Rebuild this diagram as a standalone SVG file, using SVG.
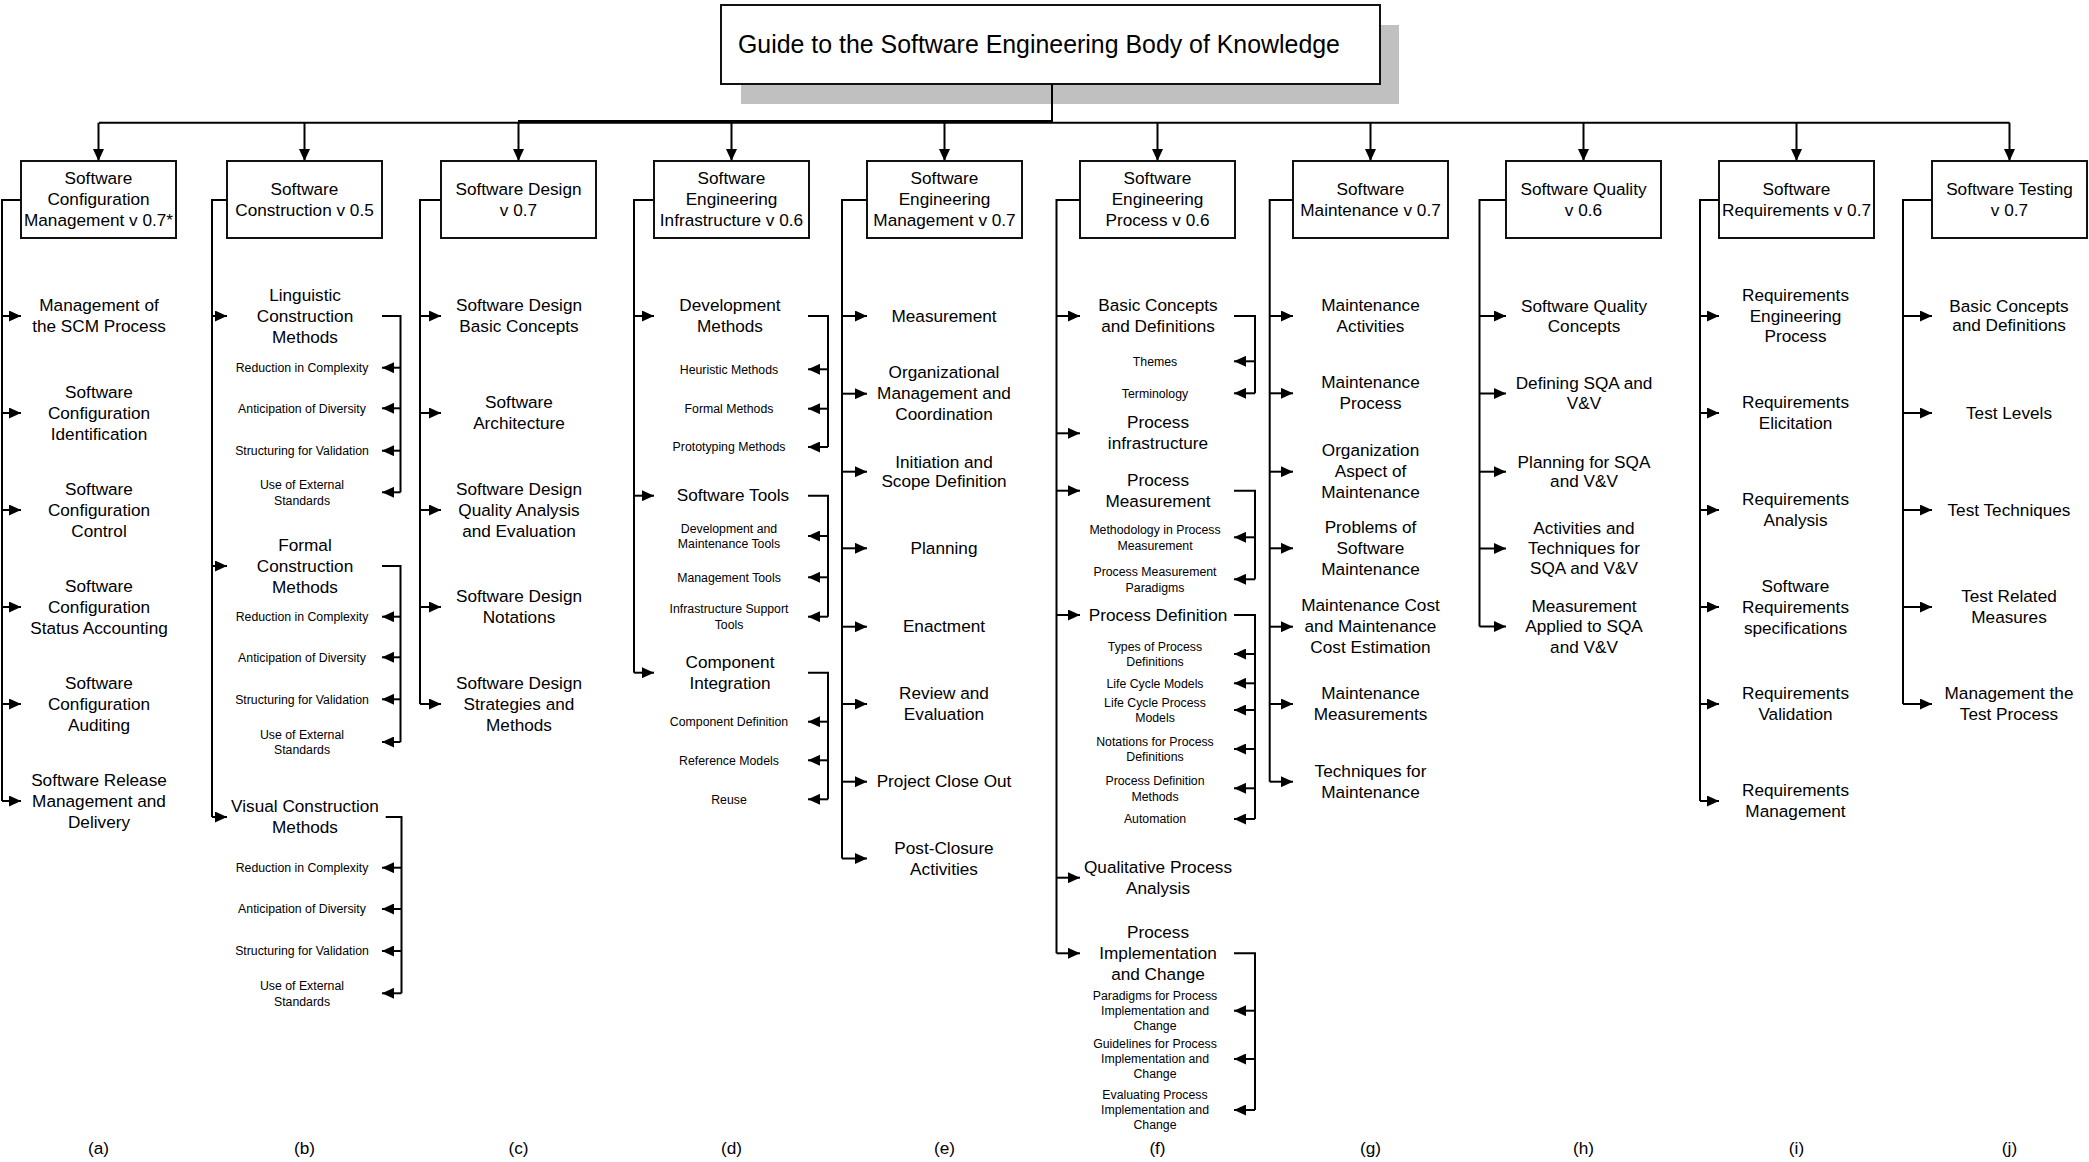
<svg xmlns="http://www.w3.org/2000/svg" width="2089" height="1162" viewBox="0 0 2089 1162">
<style>
text{font-family:"Liberation Sans",Arial,sans-serif;fill:#000;text-anchor:middle;font-size:17.2px}
.s{font-size:12.3px}
.ttl{font-size:24.9px;text-anchor:start}
.box{fill:#fff;stroke:#111;stroke-width:2}
.ln{fill:none;stroke:#000;stroke-width:2}
.ar{fill:none;stroke:#000;stroke-width:2;marker-end:url(#ah)}
</style>
<defs>
<marker id="ah" viewBox="0 0 12 11" refX="12" refY="5.5" markerWidth="12" markerHeight="11" markerUnits="userSpaceOnUse" orient="auto"><path d="M0,0 L12,5.5 L0,11 z" fill="#000"/></marker>
</defs>
<rect width="2089" height="1162" fill="#fff"/>

<g id="root">
<rect x="741" y="25" width="658" height="79" fill="#c0c0c0"/>
<rect class="box" x="721" y="5" width="659" height="79"/>
<text class="ttl" x="738" y="52.7">Guide to the Software Engineering Body of Knowledge</text>
</g>

<g id="connectors">
<path class="ln" d="M1052 84 V122.7 M99 122.7 H2009.5"/>
<path class="ln" d="M518 121 H1052"/>
<path class="ar" d="M98.5 122.7 V161"/>
<path class="ar" d="M304.5 122.7 V161"/>
<path class="ar" d="M518.5 122.7 V161"/>
<path class="ar" d="M731.5 122.7 V161"/>
<path class="ar" d="M944.5 122.7 V161"/>
<path class="ar" d="M1157.5 122.7 V161"/>
<path class="ar" d="M1370.5 122.7 V161"/>
<path class="ar" d="M1583.5 122.7 V161"/>
<path class="ar" d="M1796.5 122.7 V161"/>
<path class="ar" d="M2009.5 122.7 V161"/>
<!-- a -->
<path class="ln" d="M21 200 H2 V801"/>
<path class="ar" d="M2 316 H21"/>
<path class="ar" d="M2 413 H21"/>
<path class="ar" d="M2 510 H21"/>
<path class="ar" d="M2 607 H21"/>
<path class="ar" d="M2 704 H21"/>
<path class="ar" d="M2 801 H21"/>
<!-- b -->
<path class="ln" d="M227 200 H212 V817"/>
<path class="ar" d="M212 316 H227"/>
<path class="ar" d="M212 566 H227"/>
<path class="ar" d="M212 817 H227"/>
<path class="ln" d="M382 316 H400.5 V492.3 M382 566 H400.5 V742 M385.7 817 H401.5 V993.3"/>
<path class="ar" d="M400.5 367.7 H382"/>
<path class="ar" d="M400.5 408.3 H382"/>
<path class="ar" d="M400.5 450.7 H382"/>
<path class="ar" d="M400.5 492.3 H382"/>
<path class="ar" d="M400.5 616.7 H382"/>
<path class="ar" d="M400.5 657.3 H382"/>
<path class="ar" d="M400.5 699.3 H382"/>
<path class="ar" d="M400.5 742 H382"/>
<path class="ar" d="M401.5 867.7 H382"/>
<path class="ar" d="M401.5 909 H382"/>
<path class="ar" d="M401.5 951 H382"/>
<path class="ar" d="M401.5 993.3 H382"/>
<!-- c -->
<path class="ln" d="M441 200 H420 V704"/>
<path class="ar" d="M420 316 H441"/>
<path class="ar" d="M420 413 H441"/>
<path class="ar" d="M420 510 H441"/>
<path class="ar" d="M420 607 H441"/>
<path class="ar" d="M420 704 H441"/>
<!-- d -->
<path class="ln" d="M654 200 H634 V672.7"/>
<path class="ar" d="M634 316 H654"/>
<path class="ar" d="M634 495.7 H654"/>
<path class="ar" d="M634 672.7 H654"/>
<path class="ln" d="M808 316 H828 V447 M808 495.7 H828 V616.7 M808 672.7 H828 V799.3"/>
<path class="ar" d="M828 369.3 H808"/>
<path class="ar" d="M828 408.7 H808"/>
<path class="ar" d="M828 447 H808"/>
<path class="ar" d="M828 536 H808"/>
<path class="ar" d="M828 577.3 H808"/>
<path class="ar" d="M828 616.7 H808"/>
<path class="ar" d="M828 721.7 H808"/>
<path class="ar" d="M828 760.3 H808"/>
<path class="ar" d="M828 799.3 H808"/>
<!-- e -->
<path class="ln" d="M867 200 H842 V858.5"/>
<path class="ar" d="M842 316 H867"/>
<path class="ar" d="M842 393.7 H867"/>
<path class="ar" d="M842 471.7 H867"/>
<path class="ar" d="M842 548.3 H867"/>
<path class="ar" d="M842 626.7 H867"/>
<path class="ar" d="M842 704 H867"/>
<path class="ar" d="M842 781.7 H867"/>
<path class="ar" d="M842 858.5 H867"/>
<!-- f -->
<path class="ln" d="M1080 200 H1056.5 V953.3"/>
<path class="ar" d="M1056.5 316 H1080"/>
<path class="ar" d="M1056.5 433.3 H1080"/>
<path class="ar" d="M1056.5 490.7 H1080"/>
<path class="ar" d="M1056.5 615 H1080"/>
<path class="ar" d="M1056.5 877.7 H1080"/>
<path class="ar" d="M1056.5 953.3 H1080"/>
<path class="ln" d="M1234 316 H1255 V393.3 M1234 490.7 H1255 V579.3 M1234 615 H1255 V819 M1234 953.3 H1255 V1110"/>
<path class="ar" d="M1255 361.3 H1234"/>
<path class="ar" d="M1255 393.3 H1234"/>
<path class="ar" d="M1255 537.3 H1234"/>
<path class="ar" d="M1255 579.3 H1234"/>
<path class="ar" d="M1255 654 H1234"/>
<path class="ar" d="M1255 683.3 H1234"/>
<path class="ar" d="M1255 710 H1234"/>
<path class="ar" d="M1255 749 H1234"/>
<path class="ar" d="M1255 788.3 H1234"/>
<path class="ar" d="M1255 819 H1234"/>
<path class="ar" d="M1255 1010.7 H1234"/>
<path class="ar" d="M1255 1059 H1234"/>
<path class="ar" d="M1255 1110 H1234"/>
<!-- g -->
<path class="ln" d="M1293 200 H1269.7 V781.7"/>
<path class="ar" d="M1269.7 316 H1293"/>
<path class="ar" d="M1269.7 393.3 H1293"/>
<path class="ar" d="M1269.7 471.7 H1293"/>
<path class="ar" d="M1269.7 548.3 H1293"/>
<path class="ar" d="M1269.7 626.7 H1293"/>
<path class="ar" d="M1269.7 704 H1293"/>
<path class="ar" d="M1269.7 781.7 H1293"/>
<!-- h -->
<path class="ln" d="M1506 200 H1479.5 V626.5"/>
<path class="ar" d="M1479.5 316 H1506"/>
<path class="ar" d="M1479.5 393.5 H1506"/>
<path class="ar" d="M1479.5 471.7 H1506"/>
<path class="ar" d="M1479.5 548.5 H1506"/>
<path class="ar" d="M1479.5 626.5 H1506"/>
<!-- i -->
<path class="ln" d="M1719 200 H1700 V801"/>
<path class="ar" d="M1700 316 H1719"/>
<path class="ar" d="M1700 413 H1719"/>
<path class="ar" d="M1700 510 H1719"/>
<path class="ar" d="M1700 607 H1719"/>
<path class="ar" d="M1700 704 H1719"/>
<path class="ar" d="M1700 801 H1719"/>
<!-- j -->
<path class="ln" d="M1932 200 H1903 V704"/>
<path class="ar" d="M1903 316 H1932"/>
<path class="ar" d="M1903 413 H1932"/>
<path class="ar" d="M1903 510 H1932"/>
<path class="ar" d="M1903 607 H1932"/>
<path class="ar" d="M1903 704 H1932"/>
</g>

<g id="node-a"><rect class="box" x="21" y="161" width="155" height="77"/>
<text><tspan x="98.5" y="184">Software</tspan><tspan x="98.5" y="205">Configuration</tspan><tspan x="98.5" y="226">Management v 0.7*</tspan></text></g>
<g id="node-b"><rect class="box" x="227" y="161" width="155" height="77"/>
<text><tspan x="304.5" y="194.5">Software</tspan><tspan x="304.5" y="215.5">Construction v 0.5</tspan></text></g>
<g id="node-c"><rect class="box" x="441" y="161" width="155" height="77"/>
<text><tspan x="518.5" y="194.5">Software Design</tspan><tspan x="518.5" y="215.5">v 0.7</tspan></text></g>
<g id="node-d"><rect class="box" x="654" y="161" width="155" height="77"/>
<text><tspan x="731.5" y="184">Software</tspan><tspan x="731.5" y="205">Engineering</tspan><tspan x="731.5" y="226">Infrastructure v 0.6</tspan></text></g>
<g id="node-e"><rect class="box" x="867" y="161" width="155" height="77"/>
<text><tspan x="944.5" y="184">Software</tspan><tspan x="944.5" y="205">Engineering</tspan><tspan x="944.5" y="226">Management v 0.7</tspan></text></g>
<g id="node-f"><rect class="box" x="1080" y="161" width="155" height="77"/>
<text><tspan x="1157.5" y="184">Software</tspan><tspan x="1157.5" y="205">Engineering</tspan><tspan x="1157.5" y="226">Process v 0.6</tspan></text></g>
<g id="node-g"><rect class="box" x="1293" y="161" width="155" height="77"/>
<text><tspan x="1370.5" y="194.5">Software</tspan><tspan x="1370.5" y="215.5">Maintenance v 0.7</tspan></text></g>
<g id="node-h"><rect class="box" x="1506" y="161" width="155" height="77"/>
<text><tspan x="1583.5" y="194.5">Software Quality</tspan><tspan x="1583.5" y="215.5">v 0.6</tspan></text></g>
<g id="node-i"><rect class="box" x="1719" y="161" width="155" height="77"/>
<text><tspan x="1796.5" y="194.5">Software</tspan><tspan x="1796.5" y="215.5">Requirements v 0.7</tspan></text></g>
<g id="node-j"><rect class="box" x="1932" y="161" width="155" height="77"/>
<text><tspan x="2009.5" y="194.5">Software Testing</tspan><tspan x="2009.5" y="215.5">v 0.7</tspan></text></g>

<g id="topics-a">
<text id="a1"><tspan x="99" y="311">Management of</tspan><tspan x="99" y="332">the SCM Process</tspan></text>
<text id="a2"><tspan x="99" y="397.5">Software</tspan><tspan x="99" y="418.5">Configuration</tspan><tspan x="99" y="439.5">Identification</tspan></text>
<text id="a3"><tspan x="99" y="494.5">Software</tspan><tspan x="99" y="515.5">Configuration</tspan><tspan x="99" y="536.5">Control</tspan></text>
<text id="a4"><tspan x="99" y="591.5">Software</tspan><tspan x="99" y="612.5">Configuration</tspan><tspan x="99" y="633.5">Status Accounting</tspan></text>
<text id="a5"><tspan x="99" y="688.5">Software</tspan><tspan x="99" y="709.5">Configuration</tspan><tspan x="99" y="730.5">Auditing</tspan></text>
<text id="a6"><tspan x="99" y="785.5">Software Release</tspan><tspan x="99" y="806.5">Management and</tspan><tspan x="99" y="827.5">Delivery</tspan></text>
</g>

<g id="topics-b">
<text id="b1"><tspan x="305" y="300.5">Linguistic</tspan><tspan x="305" y="321.5">Construction</tspan><tspan x="305" y="342.5">Methods</tspan></text>
<text class="s" x="302" y="372.1">Reduction in Complexity</text>
<text class="s" x="302" y="412.7">Anticipation of Diversity</text>
<text class="s" x="302" y="455.1">Structuring for Validation</text>
<text class="s"><tspan x="302" y="488.9">Use of External</tspan><tspan x="302" y="504.5">Standards</tspan></text>
<text id="b2"><tspan x="305" y="550.5">Formal</tspan><tspan x="305" y="571.5">Construction</tspan><tspan x="305" y="592.5">Methods</tspan></text>
<text class="s" x="302" y="621.1">Reduction in Complexity</text>
<text class="s" x="302" y="661.7">Anticipation of Diversity</text>
<text class="s" x="302" y="703.7">Structuring for Validation</text>
<text class="s"><tspan x="302" y="738.6">Use of External</tspan><tspan x="302" y="754.2">Standards</tspan></text>
<text id="b3"><tspan x="305" y="812">Visual Construction</tspan><tspan x="305" y="833">Methods</tspan></text>
<text class="s" x="302" y="872.1">Reduction in Complexity</text>
<text class="s" x="302" y="913.4">Anticipation of Diversity</text>
<text class="s" x="302" y="955.4">Structuring for Validation</text>
<text class="s"><tspan x="302" y="989.9">Use of External</tspan><tspan x="302" y="1005.5">Standards</tspan></text>
</g>

<g id="topics-c">
<text><tspan x="519" y="311">Software Design</tspan><tspan x="519" y="332">Basic Concepts</tspan></text>
<text><tspan x="519" y="408">Software</tspan><tspan x="519" y="429">Architecture</tspan></text>
<text><tspan x="519" y="494.5">Software Design</tspan><tspan x="519" y="515.5">Quality Analysis</tspan><tspan x="519" y="536.5">and Evaluation</tspan></text>
<text><tspan x="519" y="602">Software Design</tspan><tspan x="519" y="623">Notations</tspan></text>
<text><tspan x="519" y="688.5">Software Design</tspan><tspan x="519" y="709.5">Strategies and</tspan><tspan x="519" y="730.5">Methods</tspan></text>
</g>

<g id="topics-d">
<text><tspan x="730" y="311">Development</tspan><tspan x="730" y="332">Methods</tspan></text>
<text class="s" x="729" y="373.7">Heuristic Methods</text>
<text class="s" x="729" y="413.1">Formal Methods</text>
<text class="s" x="729" y="451.4">Prototyping Methods</text>
<text x="733" y="501.2">Software Tools</text>
<text class="s"><tspan x="729" y="532.6">Development and</tspan><tspan x="729" y="548.2">Maintenance Tools</tspan></text>
<text class="s" x="729" y="581.7">Management Tools</text>
<text class="s"><tspan x="729" y="613.3">Infrastructure Support</tspan><tspan x="729" y="628.9">Tools</tspan></text>
<text><tspan x="730" y="667.7">Component</tspan><tspan x="730" y="688.7">Integration</tspan></text>
<text class="s" x="729" y="726.1">Component Definition</text>
<text class="s" x="729" y="764.7">Reference Models</text>
<text class="s" x="729" y="803.7">Reuse</text>
</g>

<g id="topics-e">
<text x="944" y="321.5">Measurement</text>
<text><tspan x="944" y="378.2">Organizational</tspan><tspan x="944" y="399.2">Management and</tspan><tspan x="944" y="420.2">Coordination</tspan></text>
<text><tspan x="944" y="467.7">Initiation and</tspan><tspan x="944" y="486.7">Scope Definition</tspan></text>
<text x="944" y="553.8">Planning</text>
<text x="944" y="632.2">Enactment</text>
<text><tspan x="944" y="699">Review and</tspan><tspan x="944" y="720">Evaluation</tspan></text>
<text x="944" y="787.2">Project Close Out</text>
<text><tspan x="944" y="853.5">Post-Closure</tspan><tspan x="944" y="874.5">Activities</tspan></text>
</g>

<g id="topics-f">
<text><tspan x="1158" y="311">Basic Concepts</tspan><tspan x="1158" y="332">and Definitions</tspan></text>
<text class="s" x="1155" y="365.7">Themes</text>
<text class="s" x="1155" y="397.7">Terminology</text>
<text><tspan x="1158" y="428.3">Process</tspan><tspan x="1158" y="449.3">infrastructure</tspan></text>
<text><tspan x="1158" y="485.7">Process</tspan><tspan x="1158" y="506.7">Measurement</tspan></text>
<text class="s"><tspan x="1155" y="533.9">Methodology in Process</tspan><tspan x="1155" y="549.5">Measurement</tspan></text>
<text class="s"><tspan x="1155" y="575.9">Process Measurement</tspan><tspan x="1155" y="591.5">Paradigms</tspan></text>
<text x="1158" y="620.5">Process Definition</text>
<text class="s"><tspan x="1155" y="650.6">Types of Process</tspan><tspan x="1155" y="666.2">Definitions</tspan></text>
<text class="s" x="1155" y="687.7">Life Cycle Models</text>
<text class="s"><tspan x="1155" y="706.6">Life Cycle Process</tspan><tspan x="1155" y="722.2">Models</tspan></text>
<text class="s"><tspan x="1155" y="745.6">Notations for Process</tspan><tspan x="1155" y="761.2">Definitions</tspan></text>
<text class="s"><tspan x="1155" y="784.9">Process Definition</tspan><tspan x="1155" y="800.5">Methods</tspan></text>
<text class="s" x="1155" y="823.4">Automation</text>
<text><tspan x="1158" y="872.7">Qualitative Process</tspan><tspan x="1158" y="893.7">Analysis</tspan></text>
<text><tspan x="1158" y="937.8">Process</tspan><tspan x="1158" y="958.8">Implementation</tspan><tspan x="1158" y="979.8">and Change</tspan></text>
<text class="s"><tspan x="1155" y="1000.1">Paradigms for Process</tspan><tspan x="1155" y="1015.1">Implementation and</tspan><tspan x="1155" y="1030.1">Change</tspan></text>
<text class="s"><tspan x="1155" y="1048.4">Guidelines for Process</tspan><tspan x="1155" y="1063.4">Implementation and</tspan><tspan x="1155" y="1078.4">Change</tspan></text>
<text class="s"><tspan x="1155" y="1099.4">Evaluating Process</tspan><tspan x="1155" y="1114.4">Implementation and</tspan><tspan x="1155" y="1129.4">Change</tspan></text>
</g>

<g id="topics-g">
<text><tspan x="1370.5" y="311">Maintenance</tspan><tspan x="1370.5" y="332">Activities</tspan></text>
<text><tspan x="1370.5" y="388.3">Maintenance</tspan><tspan x="1370.5" y="409.3">Process</tspan></text>
<text><tspan x="1370.5" y="456.2">Organization</tspan><tspan x="1370.5" y="477.2">Aspect of</tspan><tspan x="1370.5" y="498.2">Maintenance</tspan></text>
<text><tspan x="1370.5" y="532.8">Problems of</tspan><tspan x="1370.5" y="553.8">Software</tspan><tspan x="1370.5" y="574.8">Maintenance</tspan></text>
<text><tspan x="1370.5" y="611.2">Maintenance Cost</tspan><tspan x="1370.5" y="632.2">and Maintenance</tspan><tspan x="1370.5" y="653.2">Cost Estimation</tspan></text>
<text><tspan x="1370.5" y="699">Maintenance</tspan><tspan x="1370.5" y="720">Measurements</tspan></text>
<text><tspan x="1370.5" y="776.7">Techniques for</tspan><tspan x="1370.5" y="797.7">Maintenance</tspan></text>
</g>

<g id="topics-h">
<text><tspan x="1584" y="311.5">Software Quality</tspan><tspan x="1584" y="331.5">Concepts</tspan></text>
<text><tspan x="1584" y="389">Defining SQA and</tspan><tspan x="1584" y="409">V&amp;V</tspan></text>
<text><tspan x="1584" y="467.7">Planning for SQA</tspan><tspan x="1584" y="486.7">and V&amp;V</tspan></text>
<text><tspan x="1584" y="534">Activities and</tspan><tspan x="1584" y="554">Techniques for</tspan><tspan x="1584" y="574">SQA and V&amp;V</tspan></text>
<text><tspan x="1584" y="611.5">Measurement</tspan><tspan x="1584" y="632">Applied to SQA</tspan><tspan x="1584" y="652.5">and V&amp;V</tspan></text>
</g>

<g id="topics-i">
<text><tspan x="1795.5" y="301">Requirements</tspan><tspan x="1795.5" y="321.5">Engineering</tspan><tspan x="1795.5" y="342">Process</tspan></text>
<text><tspan x="1795.5" y="408">Requirements</tspan><tspan x="1795.5" y="429">Elicitation</tspan></text>
<text><tspan x="1795.5" y="505">Requirements</tspan><tspan x="1795.5" y="526">Analysis</tspan></text>
<text><tspan x="1795.5" y="591.5">Software</tspan><tspan x="1795.5" y="612.5">Requirements</tspan><tspan x="1795.5" y="633.5">specifications</tspan></text>
<text><tspan x="1795.5" y="699">Requirements</tspan><tspan x="1795.5" y="720">Validation</tspan></text>
<text><tspan x="1795.5" y="796">Requirements</tspan><tspan x="1795.5" y="817">Management</tspan></text>
</g>

<g id="topics-j">
<text><tspan x="2009" y="312.2">Basic Concepts</tspan><tspan x="2009" y="330.8">and Definitions</tspan></text>
<text x="2009" y="418.5">Test Levels</text>
<text x="2009" y="515.5">Test Techniques</text>
<text><tspan x="2009" y="602">Test Related</tspan><tspan x="2009" y="623">Measures</tspan></text>
<text><tspan x="2009" y="699">Management the</tspan><tspan x="2009" y="720">Test Process</tspan></text>
</g>

<g id="labels">
<text x="98.5" y="1154">(a)</text>
<text x="304.5" y="1154">(b)</text>
<text x="518.5" y="1154">(c)</text>
<text x="731.5" y="1154">(d)</text>
<text x="944.5" y="1154">(e)</text>
<text x="1157.5" y="1154">(f)</text>
<text x="1370.5" y="1154">(g)</text>
<text x="1583.5" y="1154">(h)</text>
<text x="1796.5" y="1154">(i)</text>
<text x="2009.5" y="1154">(j)</text>
</g>
</svg>
